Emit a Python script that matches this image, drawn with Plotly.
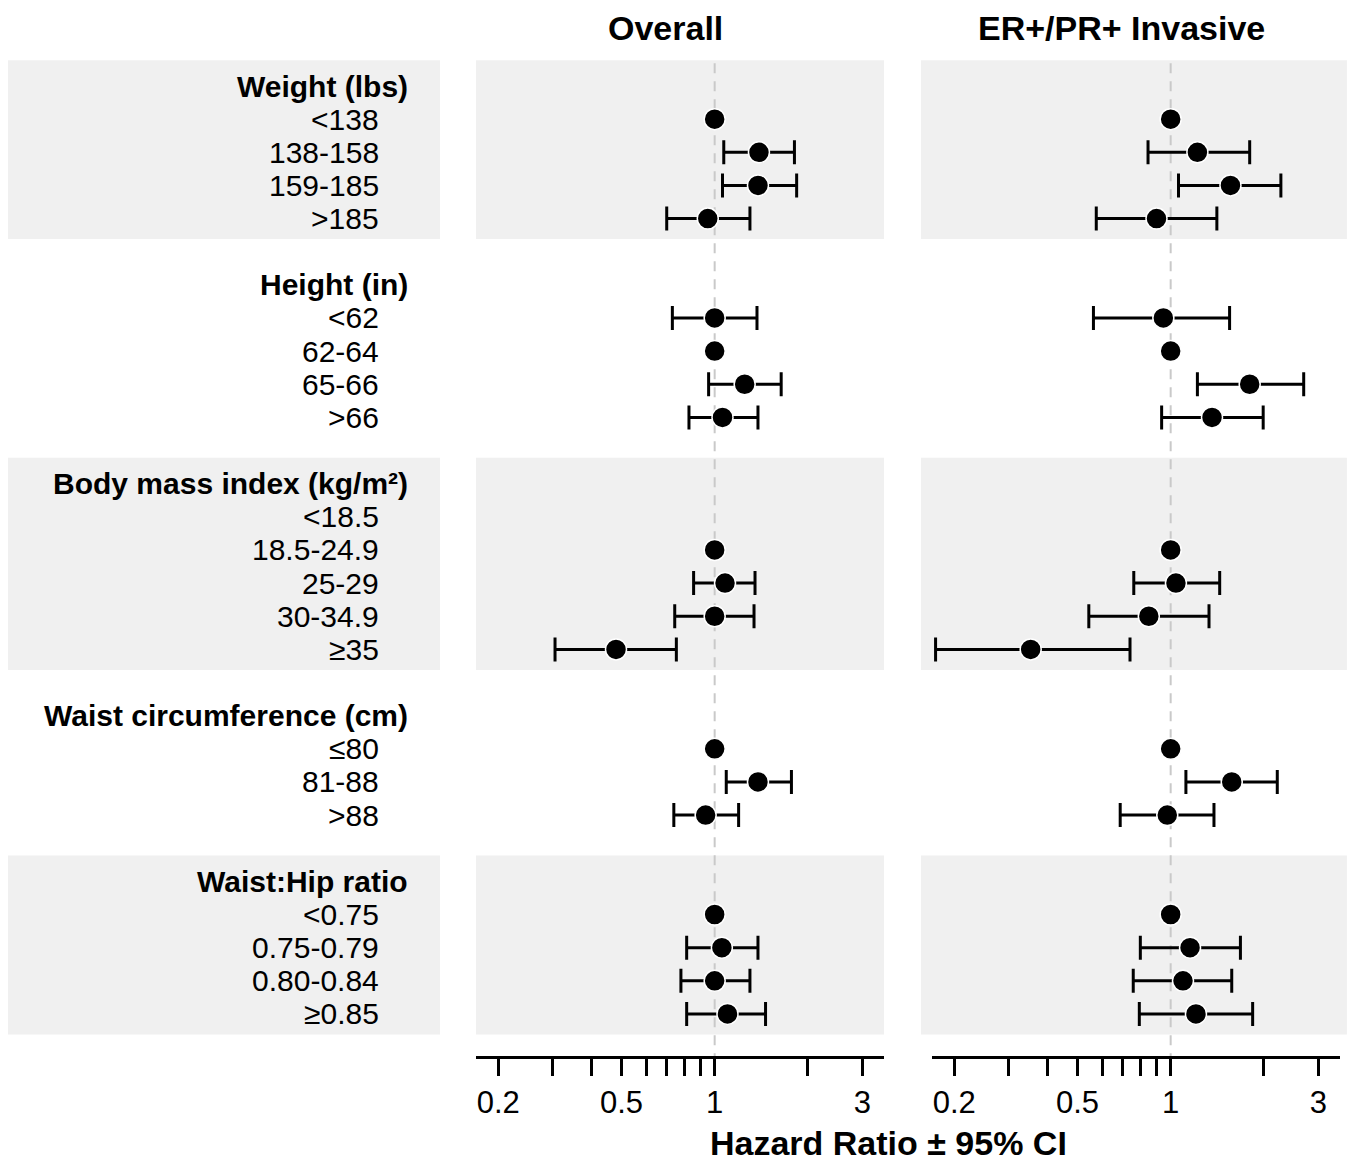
import math
import plotly.graph_objects as go

# ---------------- data ----------------
group_titles = ["Weight (lbs)", "Height (in)", "Body mass index (kg/m²)",
                "Waist circumference (cm)", "Waist:Hip ratio"]
group_levels = [
    ["<138", "138-158", "159-185", ">185"],
    ["<62", "62-64", "65-66", ">66"],
    ["<18.5", "18.5-24.9", "25-29", "30-34.9", "≥35"],
    ["≤80", "81-88", ">88"],
    ["<0.75", "0.75-0.79", "0.80-0.84", "≥0.85"],
]
# values follow the flattened order of group_levels (None = no estimate / reference)
overall_hr = [1.0, 1.39, 1.38, 0.95,
              1.0, 1.0, 1.25, 1.06,
              None, 1.0, 1.08, 1.0, 0.48,
              1.0, 1.38, 0.935,
              1.0, 1.055, 1.0, 1.10]
overall_lo = [None, 1.07, 1.06, 0.70,
              0.73, None, 0.956, 0.826,
              None, None, 0.855, 0.743, 0.305,
              None, 1.09, 0.738,
              None, 0.812, 0.778, 0.812]
overall_hi = [None, 1.81, 1.84, 1.30,
              1.37, None, 1.64, 1.38,
              None, None, 1.35, 1.34, 0.752,
              None, 1.77, 1.195,
              None, 1.38, 1.30, 1.46]
er_hr = [1.0, 1.22, 1.56, 0.90,
         0.947, 1.0, 1.80, 1.36,
         None, 1.0, 1.04, 0.85, 0.353,
         1.0, 1.575, 0.975,
         1.0, 1.155, 1.096, 1.207]
er_lo = [None, 0.845, 1.06, 0.575,
         0.563, None, 1.22, 0.935,
         None, None, 0.76, 0.544, 0.174,
         None, 1.12, 0.687,
         None, 0.798, 0.757, 0.792]
er_hi = [None, 1.80, 2.27, 1.41,
         1.55, None, 2.69, 1.99,
         None, None, 1.44, 1.33, 0.739,
         None, 2.21, 1.38,
         None, 1.68, 1.575, 1.84]

panel_titles = ["Overall", "ER+/PR+ Invasive"]
tick_vals = [0.2, 0.3, 0.4, 0.5, 0.6, 0.7, 0.8, 0.9, 1, 2, 3]
tick_text = ["0.2", "", "", "0.5", "", "", "", "", "1", "", "3"]
x_title = "Hazard Ratio ± 95% CI"

# ---------------- layout of rows ----------------
header_rows = []
level_rows = []
level_labels = []
band_ranges = []
r = 0
for gi, (title, levels) in enumerate(zip(group_titles, group_levels)):
    header_rows.append(r)
    for j, lab in enumerate(levels):
        level_rows.append(r + 1 + j)
        level_labels.append(lab)
    if gi % 2 == 0:
        band_ranges.append((r - 0.78, r + len(levels) + 0.62))
    r += len(levels) + 2

FONT = "Liberation Sans, Arial, Helvetica, sans-serif"
OFF = 8  # page body margin
W, H = 1355 - OFF, 1164 - OFF


def px(v):
    return v - OFF


top_px, bot_px = px(55), px(1056)
row0_px, row_h = px(86.0), 33.14
y_top = (top_px - row0_px) / row_h
y_bot = (bot_px - row0_px) / row_h

fig = go.Figure()

panels = [(overall_hr, overall_lo, overall_hi, "x", "y"),
          (er_hr, er_lo, er_hi, "x2", "y")]

for hr, lo, hi, xa, ya in panels:
    # reference dashed line at HR = 1
    fig.add_trace(go.Scatter(x=[1, 1], y=[-0.69, y_bot], mode="lines",
                             line=dict(color="#c9c9c9", width=2, dash="10px,8px"),
                             xaxis=xa, yaxis=ya, showlegend=False, hoverinfo="skip"))
    ci_x, ci_y, ci_p, ci_m = [], [], [], []
    ref_x, ref_y = [], []
    for v, l, h, row in zip(hr, lo, hi, level_rows):
        if v is None:
            continue
        if l is None:
            ref_x.append(v)
            ref_y.append(row)
        else:
            ci_x.append(v)
            ci_y.append(row)
            ci_p.append(h - v)
            ci_m.append(v - l)
    marker = dict(size=21, color="black", line=dict(color="white", width=1.5))
    fig.add_trace(go.Scatter(x=ci_x, y=ci_y, mode="markers", marker=marker,
                             error_x=dict(type="data", symmetric=False, array=ci_p,
                                          arrayminus=ci_m, color="black",
                                          thickness=3, width=12),
                             xaxis=xa, yaxis=ya, showlegend=False, cliponaxis=False))
    fig.add_trace(go.Scatter(x=ref_x, y=ref_y, mode="markers", marker=marker,
                             xaxis=xa, yaxis=ya, showlegend=False, cliponaxis=False))

shapes = []
for (b0, b1) in band_ranges:
    shapes.append(dict(type="rect", xref="paper", yref="y", x0=px(7) / W, x1=px(440) / W,
                       y0=b0, y1=b1, fillcolor="#f0f0f0", line=dict(width=0), layer="below"))
    shapes.append(dict(type="rect", xref="x domain", yref="y", x0=0.0, x1=1.0,
                       y0=b0, y1=b1, fillcolor="#f0f0f0", line=dict(width=0), layer="below"))
    shapes.append(dict(type="rect", xref="x2 domain", yref="y", x0=-0.027, x1=1.017,
                       y0=b0, y1=b1, fillcolor="#f0f0f0", line=dict(width=0), layer="below"))

annotations = []
for title, row in zip(group_titles, header_rows):
    annotations.append(dict(text="<b>%s</b>" % title, x=px(410) / W, xref="paper",
                            y=row, yref="y", xanchor="right", yanchor="middle",
                            showarrow=False, font=dict(size=30, color="black", family=FONT)))
for lab, row in zip(level_labels, level_rows):
    annotations.append(dict(text=lab, x=px(381) / W, xref="paper",
                            y=row, yref="y", xanchor="right", yanchor="middle",
                            showarrow=False, font=dict(size=30, color="black", family=FONT)))

plot_h = bot_px - top_px
for t, cx in zip(panel_titles, [665, 1121]):
    annotations.append(dict(text="<b>%s</b>" % t, x=px(cx) / W, xref="paper",
                            y=bot_px / plot_h, yref="paper", xanchor="center",
                            yanchor="top", borderpad=0, showarrow=False,
                            font=dict(size=34, color="black", family=FONT)))
annotations.append(dict(text="<b>%s</b>" % x_title, x=px(888) / W, xref="paper",
                        y=(bot_px - px(1143)) / plot_h, yref="paper", xanchor="center",
                        yanchor="middle", showarrow=False,
                        font=dict(size=34, color="black", family=FONT)))

xaxis_common = dict(type="log", range=[-0.771, 0.547], tickmode="array",
                    tickvals=tick_vals, ticktext=tick_text, ticks="outside",
                    ticklen=17, tickwidth=2.5, tickcolor="black", showline=True,
                    linecolor="black", linewidth=3, showgrid=False, zeroline=False,
                    tickfont=dict(size=31, color="black", family=FONT),
                    fixedrange=True)

fig.update_layout(
    width=W, height=H,
    margin=dict(l=0, r=0, t=top_px, b=H - bot_px),
    paper_bgcolor="white", plot_bgcolor="rgba(0,0,0,0)",
    xaxis=dict(domain=[px(476) / W, px(884) / W], anchor="y", **xaxis_common),
    xaxis2=dict(domain=[px(932) / W, px(1340) / W], anchor="y", **xaxis_common),
    yaxis=dict(range=[y_bot, y_top], visible=False, showgrid=False,
               zeroline=False, domain=[0, 1], anchor="x"),
    shapes=shapes, annotations=annotations, showlegend=False,
    font=dict(family=FONT, color="black"),
)

fig.write_html("out.html")
